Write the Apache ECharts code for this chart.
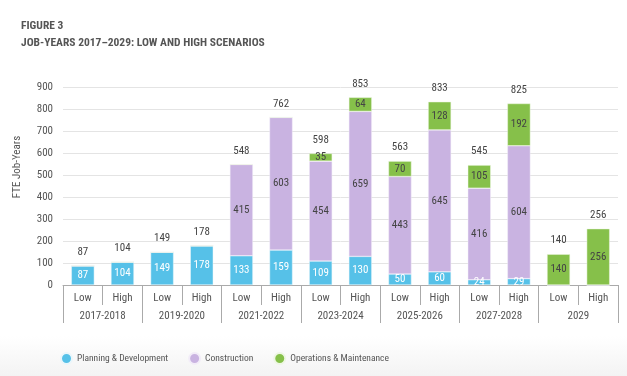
<!DOCTYPE html>
<html>
<head>
<meta charset="utf-8">
<script src="https://cdn.jsdelivr.net/npm/echarts@6/dist/echarts.min.js"></script>
<style>
  html, body { margin: 0; padding: 0; background: #fff; }
  #chart { width: 627px; height: 376px; }
</style>
</head>
<body>
<div id="chart"></div>
<script>
const scenarios = ["Low", "High", "Low", "High", "Low", "High", "Low", "High", "Low", "High", "Low", "High", "Low", "High"];
const periods = ["2017-2018", "2019-2020", "2021-2022", "2023-2024", "2025-2026", "2027-2028", "2029"];
const planning = [87, 104, 149, 178, 133, 159, 109, 130, 50, 60, 24, 29, 0, 0];
const construction = [0, 0, 0, 0, 415, 603, 454, 659, 443, 645, 416, 604, 0, 0];
const operations = [0, 0, 0, 0, 0, 0, 35, 64, 70, 128, 105, 192, 140, 256];
const totals = [87, 104, 149, 178, 548, 762, 598, 853, 563, 833, 545, 825, 140, 256];

const font = "'Roboto Condensed', 'DejaVu Sans Condensed', sans-serif";
const chart = echarts.init(document.getElementById("chart"));

function segLabel(color) {
  return {
    show: true,
    position: "inside",
    color: color,
    fontFamily: font,
    fontSize: 11,
    formatter: (p) => (p.value ? p.value : ""),
  };
}

const option = {
  animation: false,
  title: {
    text: "FIGURE 3\nJOB-YEARS 2017–2029: LOW AND HIGH SCENARIOS",
    left: 16,
    top: 13,
    textStyle: {
      fontFamily: font,
      fontWeight: "bold",
      fontSize: 11.5,
      lineHeight: 17,
      color: "#555",
    },
  },
  graphic: [
    {
      type: "rect",
      left: 0,
      top: 336,
      shape: { width: 627, height: 40 },
      style: {
        fill: new echarts.graphic.LinearGradient(0, 0, 0, 1, [
          { offset: 0, color: "#ffffff" },
          { offset: 1, color: "#f3f3f3" },
        ]),
      },
      z: -1,
    },
    {
      type: "text",
      x: 17,
      y: 167,
      rotation: Math.PI / 2,
      style: {
        text: "FTE Job-Years",
        fontFamily: font,
        fontSize: 11,
        fill: "#555",
        align: "center",
        verticalAlign: "middle",
      },
    },
  ],
  legend: {
    left: 55,
    top: 347,
    icon: "circle",
    itemWidth: 11,
    itemHeight: 11,
    itemGap: 20,
    textStyle: { fontFamily: font, fontSize: 9.5, color: "#555" },
    data: ["Planning & Development", "Construction", "Operations & Maintenance"],
  },
  grid: { left: 63, right: 9, top: 87, bottom: 91 },
  xAxis: [
    {
      type: "category",
      data: scenarios,
      axisLine: { lineStyle: { color: "#aaa" } },
      axisTick: { show: true, interval: 0, length: 20, lineStyle: { color: "#aaa" } },
      axisLabel: { interval: 0, margin: 8, fontFamily: font, fontSize: 11, color: "#555" },
    },
    {
      type: "category",
      data: periods,
      position: "bottom",
      offset: 20,
      axisLine: { show: false },
      axisTick: { show: true, interval: 0, length: 18, lineStyle: { color: "#aaa" } },
      axisLabel: { interval: 0, margin: 6, fontFamily: font, fontSize: 11, color: "#555" },
    },
  ],
  yAxis: {
    type: "value",
    min: 0,
    max: 900,
    interval: 100,
    axisLine: { show: false },
    axisTick: { show: false },
    axisLabel: { margin: 10, fontFamily: font, fontSize: 11, color: "#555" },
    splitLine: { lineStyle: { color: "#e4e4e4" } },
  },
  series: [
    {
      name: "Planning & Development",
      type: "bar",
      stack: "jobs",
      barWidth: 23,
      data: planning,
      itemStyle: { color: "#56c1e8", borderColor: "#eaf6fb", borderWidth: 0.5 },
      label: segLabel("#fff"),
    },
    {
      name: "Construction",
      type: "bar",
      stack: "jobs",
      data: construction,
      itemStyle: { color: "#c9b3e1", borderColor: "#f2ecf8", borderWidth: 0.5 },
      label: segLabel("#444"),
    },
    {
      name: "Operations & Maintenance",
      type: "bar",
      stack: "jobs",
      data: operations,
      itemStyle: { color: "#86c04a", borderColor: "#eef6e4", borderWidth: 0.5 },
      label: segLabel("#444"),
    },
    {
      name: "Total",
      type: "bar",
      barGap: "-100%",
      barWidth: 23,
      data: totals,
      itemStyle: { color: "rgba(0,0,0,0)" },
      label: {
        show: true,
        position: "top",
        distance: 8,
        color: "#444",
        fontFamily: font,
        fontSize: 11,
      },
      z: 1,
      silent: true,
    },
  ],
};

chart.setOption(option);
</script>
</body>
</html>
